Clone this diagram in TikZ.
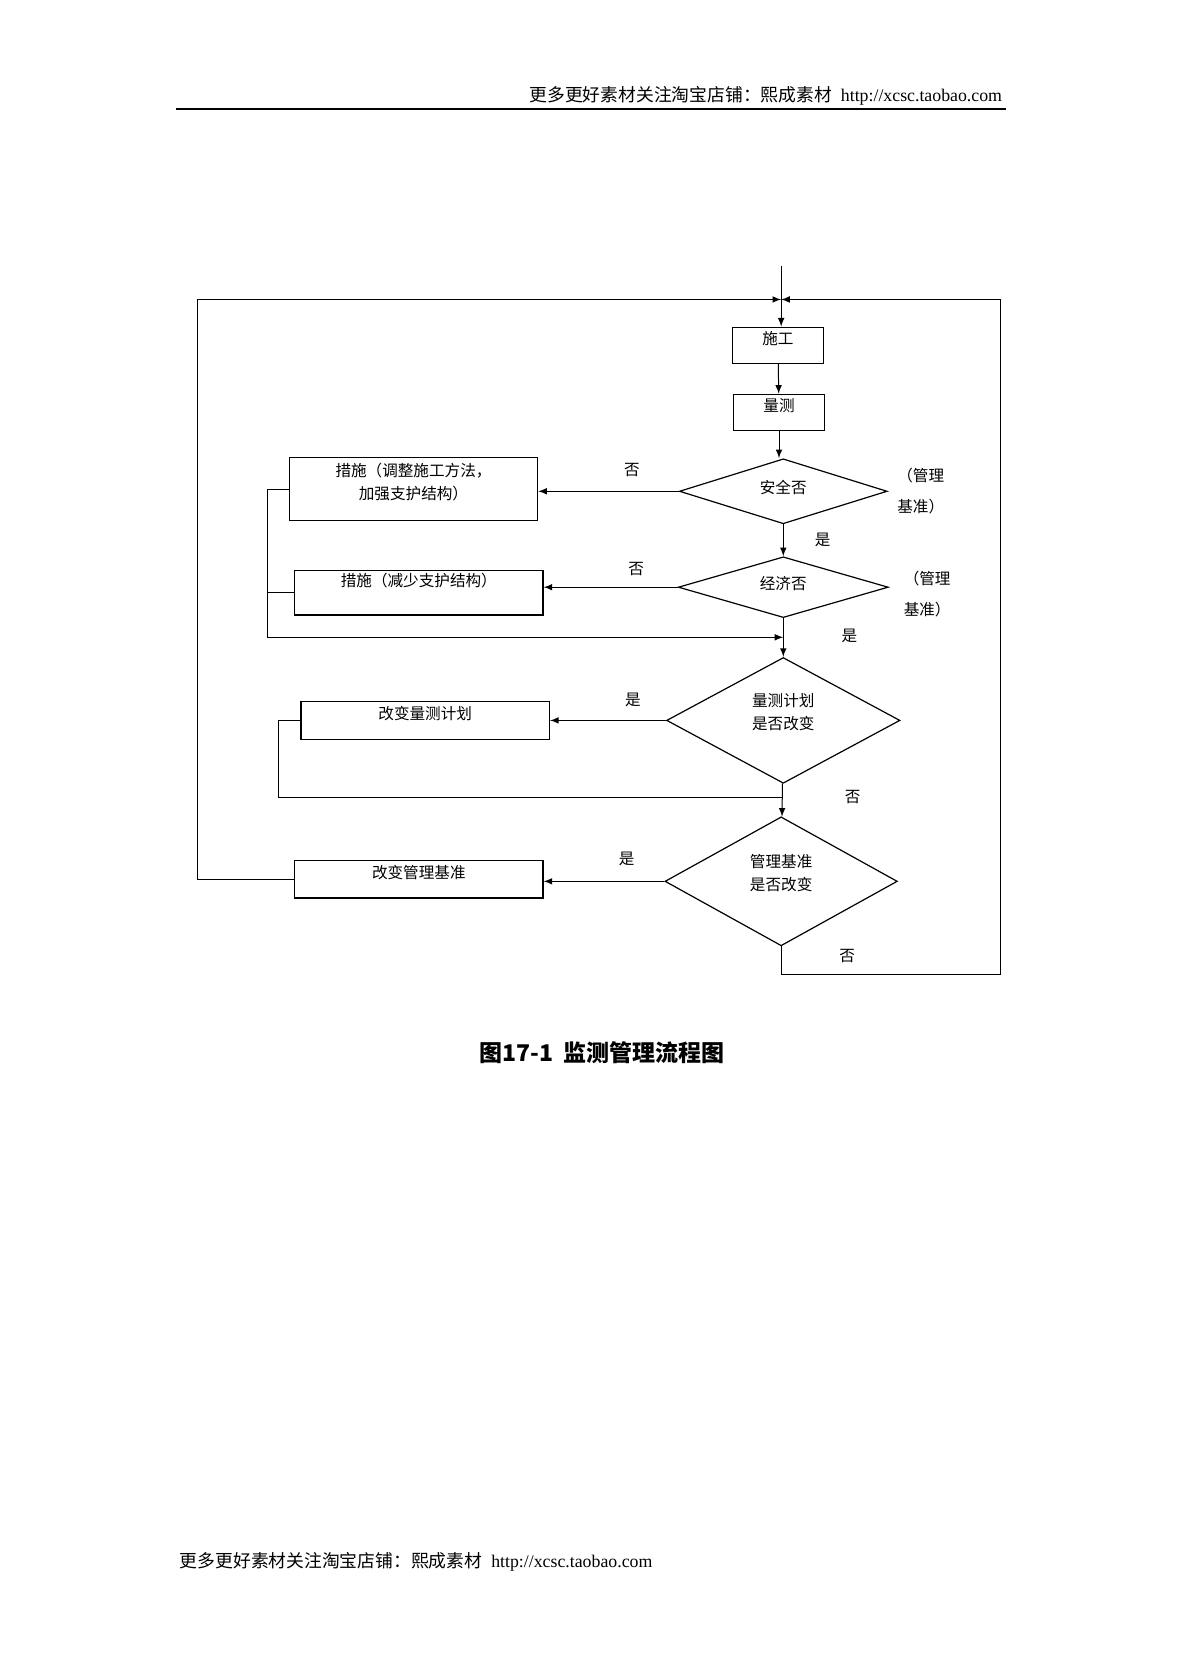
\documentclass[tikz,border=0pt]{standalone}
\usepackage{fontspec}
\setmainfont{Liberation Serif}
\newfontfamily\cjk{Noto Sans CJK SC}
\usetikzlibrary{shapes.geometric}

\tikzset{
  box/.style={draw, rectangle, line width=0.6pt, inner xsep=2pt, inner ysep=0pt,
    minimum width=124.2pt, text height=7pt, text depth=7.5pt},
  dia/.style={draw, diamond, line width=0.6pt, inner sep=1pt, align=center, aspect=1.8},
  twoline/.style={text height=18.7pt, text depth=9.6pt}
}

\begin{document}
\begin{tikzpicture}[x=0.5329pt, y=-0.5329pt, line width=0.5pt, >=latex,
    font=\cjk\fontsize{7.8}{11.7}\selectfont]
        \useasboundingbox (0,0) rectangle (1109,1568);

        % Header and footer
        \node[anchor=east, font=\fontsize{8.9}{10}\selectfont] (hdr) at (947,90)
            {{\cjk 更多更好素材关注淘宝店铺：熙成素材}\ \ http://xcsc.taobao.com};
        \draw[line width=1.1pt] (165,102) -- (944,102);
        \node[anchor=west, font=\fontsize{8.9}{10}\selectfont] (ftr) at (162,1466)
            {{\cjk 更多更好素材关注淘宝店铺：熙成素材}\ \ http://xcsc.taobao.com};

        % Main column
        \coordinate (in) at (733,250);
        \coordinate (top) at (733,281);
        \node[box, minimum width=45.8pt, minimum height=18.1pt] (sg) at (730,324) {施工};
        \node[box, minimum width=45.8pt, minimum height=18.1pt] (lc) at (731,387) {量测};
        \node[dia, minimum width=103.9pt, minimum height=32.5pt, text height=7pt, text depth=5pt] (aq) at (735,461) {安全否};
        \node[dia, minimum width=105pt, minimum height=30.4pt, text height=7pt, text depth=5pt] (jj) at (735,551) {经济否};
        \node[dia, minimum width=116.7pt, minimum height=62.9pt, twoline] (lp) at (735,676) {量测计划\\是否改变};
        \node[dia, minimum width=116.2pt, minimum height=64.5pt, twoline] (gj) at (733,827) {管理基准\\是否改变};

        % Side boxes
        \node[box, minimum height=31.4pt, align=center, text height=18.7pt, text depth=8.4pt] (cs1) at (388,459)
            {措施（调整施工方法，\\加强支护结构）};
        \node[box, minimum height=22.4pt, text depth=12.8pt] (cs2) at (393,556) {措施（减少支护结构）};
        \node[box, minimum height=18.7pt] (glc) at (399,676) {改变量测计划};
        \node[box, minimum height=18.7pt] (ggj) at (393,825) {改变管理基准};

        % Notes
        \node[align=left, font=\cjk\fontsize{7.8}{15.5}\selectfont] (note1) at (864,461) {（管理\\基准）};
        \node[align=left, font=\cjk\fontsize{7.8}{15.5}\selectfont] (note2) at (870,557) {（管理\\基准）};
        \node (no1) at (593,441) {否};
        \node (yes1) at (772,507) {是};
        \node (no2) at (597,534) {否};
        \node (yes2) at (797,597) {是};
        \node (yes3) at (594,657) {是};
        \node (no3) at (800,748) {否};
        \node (yes4) at (588,806) {是};
        \node (no4) at (795,897) {否};

        % Caption
        \node[font=\cjk\bfseries\fontsize{11.5}{13}\selectfont] (cap) at (565,988) {图17-1\ \ 监测管理流程图};

        % Edges
        \draw[->] (in) -- (top |- sg.north);
        \draw[->] (sg) -- (lc);
        \draw[->] (lc.south) -- (lc.south |- aq.north);
        \draw[->] (aq) -- (jj);
        \draw[->] (jj) -- (lp);
        \draw[->] (lp) -- (gj);
        \draw[->] (aq.west) -- (aq.west -| cs1.east);
        \draw[->] (jj.west) -- (jj.west -| cs2.east);
        \draw[->] (lp.west) -- (lp.west -| glc.east);
        \draw[->] (gj.west) -- (gj.west -| ggj.east);

        % Return lines
        \coordinate (b1) at (251,598);
        \coordinate (j1) at (735,598);
        \coordinate (b2) at (261,748);
        \coordinate (j2) at (734,748);
        \coordinate (b3) at (185,281);
        \coordinate (b4) at (939,914);
        \draw[->] (cs1.west) -| (b1) -- (j1);
        \draw (cs2.west) -- (cs2.west -| b1);
        \draw (glc.west) -| (b2) -- (j2);
        \draw[->] (ggj.west) -| (b3) -- (top);
        \draw[->] (gj.south) |- (b4) |- (top);
    \end{tikzpicture}
\end{document}
